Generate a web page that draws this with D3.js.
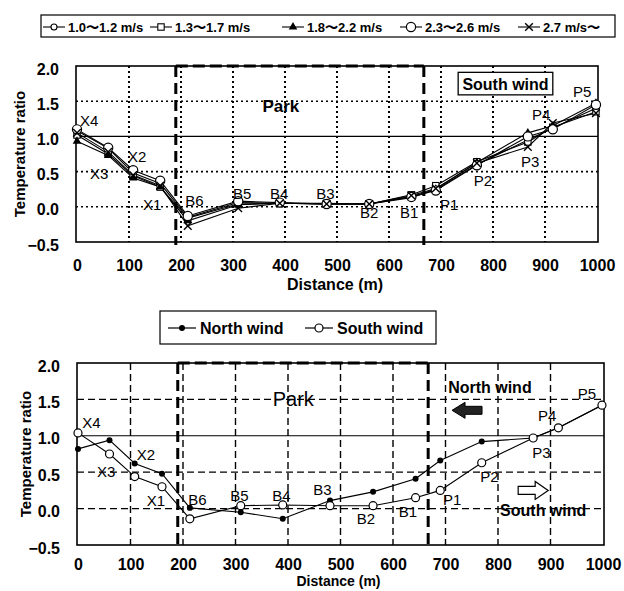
<!DOCTYPE html>
<html><head><meta charset="utf-8">
<script src="https://cdn.jsdelivr.net/npm/d3@7"></script>
<style>
body{margin:0;background:#fff;}
text{font-family:"Liberation Sans",Arial,sans-serif;fill:#000;}
</style></head>
<body>
<svg id="c" width="624" height="591"></svg>
<script>
// ---------------- data ----------------
const distances = [0, 60, 108, 160, 213, 310, 390, 480, 562, 643, 690, 769, 867, 915, 998];
const stations  = ["X4","X3","X2","X1","B6","B5","B4","B3","B2","B1","P1","P2","P3","P4","P5"];

// top chart: south wind by wind-speed class
const speedClasses = ["1.0\u301C1.2 m/s","1.3\u301C1.7 m/s","1.8\u301C2.2 m/s","2.3\u301C2.6 m/s","2.7 m/s\u301C"];
const speed1 = [1.08, 0.83, 0.48, 0.33, -0.15, 0.06, 0.05, 0.04, 0.04, 0.15, 0.24, 0.60, 0.95, 1.12, 1.40];
const speed2 = [1.02, 0.75, 0.44, 0.28, -0.16, 0.04, 0.05, 0.05, 0.04, 0.17, 0.30, 0.64, 0.92, 1.13, 1.35];
const speed3 = [0.93, 0.73, 0.41, 0.28, -0.20, 0.03, 0.05, 0.04, 0.04, 0.13, 0.25, 0.63, 1.05, 1.15, 1.47];
const speed4 = [1.10, 0.84, 0.52, 0.37, -0.13, 0.08, 0.06, 0.04, 0.04, 0.14, 0.23, 0.59, 1.00, 1.10, 1.45];
const speed5 = [1.05, 0.78, 0.45, 0.30, -0.27, -0.02, 0.05, 0.04, 0.04, 0.16, 0.26, 0.62, 0.85, 1.19, 1.33];

// bottom chart
const windNames = ["North wind", "South wind"];
const northWind = [0.82, 0.94, 0.62, 0.48, 0.01, -0.05, -0.14, 0.11, 0.23, 0.41, 0.66, 0.92, 0.97, 1.11, 1.42];
const southWind = [1.04, 0.75, 0.44, 0.30, -0.14, 0.04, 0.05, 0.04, 0.04, 0.15, 0.25, 0.63, 0.97, 1.11, 1.42];

const xTicks = [0,100,200,300,400,500,600,700,800,900,1000];
const yTicks = [-0.5,0.0,0.5,1.0,1.5,2.0];
const parkEdges = [190, 667];

// label anchors (distance, ratio) for station names
const topLabelPos = [[6,1.15],[25,0.39],[98,0.64],[127,-0.05],[208,0.01],[300,0.11],[371,0.11],[460,0.11],[544,-0.16],[621,-0.16],[698,-0.05],[763,0.30],[854,0.57],[875,1.23],[954,1.56]];
const botLabelPos = [[8,1.11],[36,0.43],[112,0.67],[131,0.04],[210,0.05],[290,0.11],[370,0.11],[448,0.18],[531,-0.21],[611,-0.11],[695,0.05],[766,0.36],[865,0.69],[876,1.20],[952,1.51]];

// ---------------- drawing ----------------
const svg = d3.select("#c");

function marker(g, type, x, y) {
  if (type === "circleSmall") g.append("circle").attr("cx",x).attr("cy",y).attr("r",3).attr("fill","#fff").attr("stroke","#000").attr("stroke-width",1.1);
  else if (type === "circle") g.append("circle").attr("cx",x).attr("cy",y).attr("r",4.6).attr("fill","#fff").attr("stroke","#000").attr("stroke-width",1.2);
  else if (type === "square") g.append("rect").attr("x",x-3.2).attr("y",y-3.2).attr("width",6.4).attr("height",6.4).attr("fill","#fff").attr("stroke","#000").attr("stroke-width",1.1);
  else if (type === "triangle") g.append("path").attr("d",d3.symbol(d3.symbolTriangle,32)()).attr("transform",`translate(${x},${y})`).attr("fill","#000");
  else if (type === "cross") g.append("path").attr("d",d3.symbol(d3.symbolX,40)()).attr("transform",`translate(${x},${y})`).attr("fill","none").attr("stroke","#000").attr("stroke-width",1.4);
  else if (type === "dot") g.append("circle").attr("cx",x).attr("cy",y).attr("r",3).attr("fill","#000");
  else if (type === "open") g.append("circle").attr("cx",x).attr("cy",y).attr("r",4).attr("fill","#fff").attr("stroke","#000").attr("stroke-width",1.2);
}

function panel(cfg) {
  const x = d3.scaleLinear([0,1000],[cfg.x0,cfg.x1]);
  const y = d3.scaleLinear([-0.5,2.0],[cfg.yb,cfg.yt]);
  const g = svg.append("g");
  const L = cfg.x0-1, R = cfg.x1+1;

  // grid
  const gridDash = cfg.dotted ? "2,3" : "7,4";
  const gridW = cfg.dotted ? 2 : 1.4;
  g.selectAll(".vg").data(xTicks.filter(t=>t>0&&t<1000)).join("line")
    .attr("x1",d=>x(d)).attr("x2",d=>x(d)).attr("y1",y(2)).attr("y2",y(-0.5))
    .attr("stroke","#000").attr("stroke-width",gridW).attr("stroke-dasharray",gridDash);
  g.selectAll(".hg").data([0,0.5,1.5]).join("line")
    .attr("x1",L).attr("x2",R).attr("y1",d=>y(d)).attr("y2",d=>y(d))
    .attr("stroke","#000").attr("stroke-width",cfg.dotted?1.6:1.3).attr("stroke-dasharray",gridDash);
  g.append("line").attr("x1",L).attr("x2",R).attr("y1",y(1)).attr("y2",y(1)).attr("stroke","#000").attr("stroke-width",1.1);

  // park box
  parkEdges.forEach(p=>{
    g.append("line").attr("x1",x(p)).attr("x2",x(p)).attr("y1",y(2)).attr("y2",y(-0.5)+3)
      .attr("stroke","#000").attr("stroke-width",3).attr("stroke-dasharray","11,6");
  });
  g.append("line").attr("x1",x(parkEdges[0])).attr("x2",x(parkEdges[1])).attr("y1",y(2)).attr("y2",y(2))
    .attr("stroke","#000").attr("stroke-width",3.2).attr("stroke-dasharray","12,5");

  // frame
  g.append("rect").attr("x",L).attr("y",y(2)).attr("width",R-L).attr("height",y(-0.5)-y(2))
    .attr("fill","none").attr("stroke","#000").attr("stroke-width",1.6);

  // axes
  const ax = g.append("g").attr("transform",`translate(0,${y(-0.5)})`)
    .call(d3.axisBottom(x).tickValues(xTicks).tickSize(0).tickPadding(cfg.xPad).tickFormat(d3.format("d")));
  ax.select(".domain").remove();
  ax.selectAll("text").attr("font-size",16).attr("font-weight","bold").attr("font-family","Liberation Sans, Arial, sans-serif");
  const ay = g.append("g").attr("transform",`translate(${L},0)`)
    .call(d3.axisLeft(y).tickValues(yTicks).tickSize(0).tickPadding(17).tickFormat(d3.format(".1f")));
  ay.select(".domain").remove();
  ay.selectAll("text").attr("font-size",16).attr("font-weight","bold").attr("font-family","Liberation Sans, Arial, sans-serif").attr("dy","0.5em");

  g.append("text").attr("x",(L+R)/2-2).attr("y",cfg.xTitleY).attr("text-anchor","middle")
    .attr("font-size",cfg.xTitleSize).attr("font-weight","bold").text("Distance (m)");
  g.append("text").attr("transform",`translate(${cfg.yTitleX},${(y(2)+y(-0.5))/2}) rotate(-90)`)
    .attr("text-anchor","middle").attr("font-size",15).attr("font-weight","bold").text("Temperature ratio");

  // series
  const line = d3.line().x((d,i)=>x(distances[i])).y(d=>y(d));
  cfg.series.forEach(s=>{
    g.append("path").datum(s.values).attr("d",line).attr("fill","none").attr("stroke","#000").attr("stroke-width",1.1);
  });
  cfg.series.forEach(s=>{
    s.values.forEach((v,i)=>marker(g,s.marker,x(distances[i]),y(v)));
  });

  // station labels
  stations.forEach((s,i)=>{
    g.append("text").attr("x",x(cfg.labelPos[i][0])).attr("y",y(cfg.labelPos[i][1]))
      .attr("font-size",15).text(s);
  });
  return {g,x,y};
}

// ---------- top chart ----------
const topP = panel({
  x0:77, x1:597, yt:66, yb:242, dotted:true, xPad:18, xTitleY:290, xTitleSize:16, yTitleX:25,
  labelPos: topLabelPos,
  series:[
    {values:speed1, marker:"circleSmall"},
    {values:speed2, marker:"square"},
    {values:speed3, marker:"triangle"},
    {values:speed4, marker:"circle"},
    {values:speed5, marker:"cross"}
  ]
});
topP.g.append("text").attr("x",topP.x(392)).attr("y",topP.y(1.35)).attr("text-anchor","middle")
  .attr("font-size",17).attr("font-weight","bold").text("Park");
topP.g.append("rect").attr("x",topP.x(733)).attr("y",topP.y(1.91)).attr("width",topP.x(915)-topP.x(733)).attr("height",topP.y(1.59)-topP.y(1.91))
  .attr("fill","#fff").attr("stroke","#000").attr("stroke-width",1.3);
topP.g.append("text").attr("x",topP.x(824)).attr("y",topP.y(1.66)).attr("text-anchor","middle")
  .attr("font-size",16).attr("font-weight","bold").text("South wind");

// top legend
{
  const lg = svg.append("g");
  lg.append("rect").attr("x",41).attr("y",15).attr("width",574).attr("height",22).attr("fill","#fff").attr("stroke","#000").attr("stroke-width",1.2);
  const types = ["circleSmall","square","triangle","circle","cross"];
  const starts = [43,150,282,400,518];
  speedClasses.forEach((t,i)=>{
    const sx = starts[i];
    lg.append("line").attr("x1",sx).attr("x2",sx+22).attr("y1",27).attr("y2",27).attr("stroke","#000").attr("stroke-width",1.1);
    marker(lg,types[i],sx+11,27);
    lg.append("text").attr("x",sx+25).attr("y",32).attr("font-size",13).attr("font-weight","bold").text(t);
  });
}

// ---------- bottom chart ----------
const botP = panel({
  x0:78, x1:603, yt:363, yb:545, dotted:false, xPad:14, xTitleY:586, xTitleSize:14, yTitleX:31,
  labelPos: botLabelPos,
  series:[
    {values:northWind, marker:"dot"},
    {values:southWind, marker:"open"}
  ]
});
botP.g.append("text").attr("x",botP.x(410)).attr("y",botP.y(1.41)).attr("text-anchor","middle")
  .attr("font-size",20).text("Park");
botP.g.append("text").attr("x",botP.x(705)).attr("y",botP.y(1.59)).attr("font-size",16).attr("font-weight","bold").text("North wind");
botP.g.append("text").attr("x",botP.x(804)).attr("y",botP.y(-0.10)).attr("font-size",16).attr("font-weight","bold").text("South wind");
// arrows
{
  const cx = botP.x(741), cy = botP.y(1.35);
  botP.g.append("path").attr("d",`M${cx-15},${cy} L${cx-2},${cy-8} L${cx-2},${cy-4} L${cx+15},${cy-4} L${cx+15},${cy+4} L${cx-2},${cy+4} L${cx-2},${cy+8} Z`)
    .attr("fill","#222").attr("stroke","#000");
  const ox = botP.x(867), oy = botP.y(0.25);
  botP.g.append("path").attr("d",`M${ox+15},${oy} L${ox+2},${oy-9} L${ox+2},${oy-4} L${ox-15},${oy-4} L${ox-15},${oy+4} L${ox+2},${oy+4} L${ox+2},${oy+9} Z`)
    .attr("fill","#fff").attr("stroke","#000").attr("stroke-width",1.2);
}
// bottom legend
{
  const lg = svg.append("g");
  lg.append("rect").attr("x",160).attr("y",311).attr("width",276).attr("height",33).attr("fill","#fff").attr("stroke","#000").attr("stroke-width",1.2);
  const types = ["dot","open"];
  const starts = [168,305];
  windNames.forEach((t,i)=>{
    const sx = starts[i];
    lg.append("line").attr("x1",sx).attr("x2",sx+28).attr("y1",328).attr("y2",328).attr("stroke","#000").attr("stroke-width",1.2);
    marker(lg,types[i],sx+14,328);
    lg.append("text").attr("x",sx+32).attr("y",334).attr("font-size",16).attr("font-weight","bold").text(t);
  });
}
</script>
</body></html>
